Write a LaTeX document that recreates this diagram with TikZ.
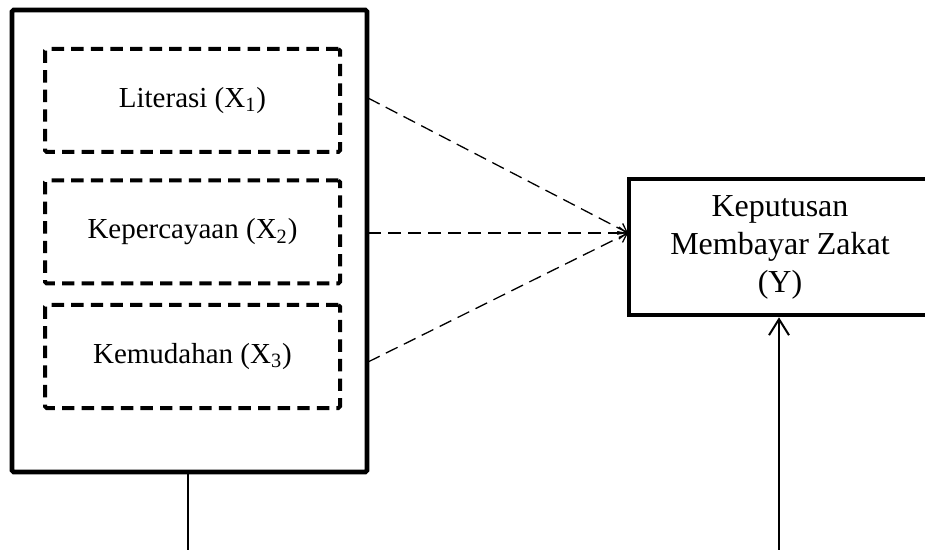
\documentclass[tikz,border=0pt]{standalone}
\usepackage{fontspec}
\setmainfont{Liberation Serif}
\usetikzlibrary{arrows.meta}
\begin{document}
\begin{tikzpicture}[x=0.5pt,y=-0.5pt,
  outerbox/.style={draw, line width=2.3pt, minimum width=177.5pt, minimum height=231pt, inner sep=0pt, rounded corners=0.8pt},
  varbox/.style={draw, line width=2pt, dash pattern=on 6.2pt off 3.6pt, minimum width=147.5pt, minimum height=51.5pt, inner sep=0pt, rounded corners=0.8pt, font=\fontsize{14.5}{17}\selectfont},
  ybox/.style={draw, line width=2.3pt, minimum width=151pt, minimum height=68pt, inner sep=0pt, align=center, font=\fontsize{16}{19}\selectfont},
  dashlink/.style={line width=0.65pt, dash pattern=on 6.5pt off 3.5pt, -{Straight Barb[length=4pt,width=6pt]}},
  solidlink/.style={line width=1pt},
  solidarrow/.style={line width=1pt, -{Straight Barb[length=8pt,width=10pt]}}
]
\useasboundingbox (0,0) rectangle (925,550);
\clip (0,0) rectangle (925,550);

\node[outerbox] (outer) at (189.5,241) {};
\node[varbox] (lit) at (192.5,100.5) {Literasi (X\textsubscript{1})};
\node[varbox] (kep) at (192.5,232) {Kepercayaan (X\textsubscript{2})};
\node[varbox] (kem) at (192.5,356.5) {Kemudahan (X\textsubscript{3})};
\node[ybox] (Y) at (780,247) {Keputusan\\Membayar Zakat\\(Y)};

\coordinate (s1) at (368,98);
\coordinate (s2) at (368,233);
\coordinate (s3) at (368,362);
\coordinate (yin) at (628,233);
\coordinate (b1) at (188,552);
\coordinate (b2) at (779,552);

\draw[dashlink] (s1) -- (yin);
\draw[dashlink] (s2) -- (yin);
\draw[dashlink] (s3) -- (yin);
\draw[solidlink] (outer.south -| b1) -- (b1);
\draw[solidarrow] (b2) -- (b2 |- Y.south);
\end{tikzpicture}
\end{document}
